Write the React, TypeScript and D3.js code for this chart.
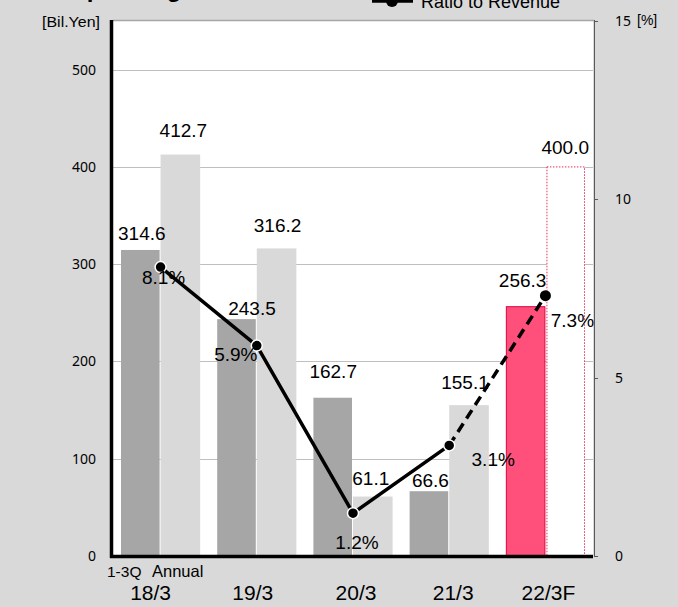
import React, { useEffect, useRef } from 'react';
import * as d3 from 'd3';

const categories = ['18/3', '19/3', '20/3', '21/3', '22/3F'];
const firstThreeQuarters = [314.6, 243.5, 162.7, 66.6, 256.3];
const annual = [412.7, 316.2, 61.1, 155.1, 400.0];
const ratio = [8.1, 5.9, 1.2, 3.1, 7.3];
const leftTicks = [0, 100, 200, 300, 400, 500];
const rightTicks = [0, 5, 10, 15];

// manual label nudges (like the hand-moved labels in the original)
const q3LabelShift = [[1, -17], [15, -11], [0, -26], [1, -11], [-3, -26]];
const annualLabelShift = [[3, -24], [1, -23], [-2, -18], [-4, -23], [0, -20]];
const ratioLabelShift = [[3, 10], [-21, 9], [4, 29], [44, 14], [27, 25]];
const categoryShift = [-10, -4, 3, 4, 3];

const W = 678;
const H = 607;
const plot = { left: 113, right: 593, top: 21, bottom: 556 };
const labelFont = '"Liberation Sans", Arial, sans-serif';

const IncomeChart = () => {
  const svgRef = useRef<SVGSVGElement>(null);

  useEffect(() => {
    const svg = d3.select(svgRef.current);
    svg.selectAll('*').remove();
    svg.attr('width', W).attr('height', H);

    const last = categories.length - 1;

    // scales
    const x0 = d3.scaleBand<string>()
      .domain(categories)
      .range([plot.left, plot.right])
      .paddingInner(0.177)
      .paddingOuter(0.083);
    const x1 = d3.scaleBand<string>()
      .domain(['q3', 'annual'])
      .range([0, x0.bandwidth()]);
    const yLeft = d3.scaleLinear().domain([0, 550]).range([plot.bottom, plot.top]);
    const yRight = d3.scaleLinear().domain([0, 15]).range([plot.bottom, plot.top]);
    const cx = (c: string) => (x0(c) as number) + x0.bandwidth() / 2;

    // background + plot area
    svg.append('rect').attr('width', W).attr('height', H).attr('fill', '#d9d9d9');
    svg.append('rect')
      .attr('x', plot.left).attr('y', plot.top)
      .attr('width', plot.right - plot.left).attr('height', plot.bottom - plot.top)
      .attr('fill', '#fff');
    svg.append('line')
      .attr('x1', plot.left).attr('x2', plot.right + 1)
      .attr('y1', plot.top - 0.5).attr('y2', plot.top - 0.5)
      .attr('stroke', '#a6a6a6').attr('stroke-width', 1.5);

    // gridlines
    svg.selectAll('.grid')
      .data(leftTicks.filter(t => t > 0))
      .enter().append('line')
      .attr('x1', plot.left).attr('x2', plot.right)
      .attr('y1', d => Math.round(yLeft(d)) + 0.5).attr('y2', d => Math.round(yLeft(d)) + 0.5)
      .attr('stroke', '#bfbfbf').attr('stroke-width', 1);

    // bars
    categories.forEach((c, i) => {
      const bx = x0(c) as number;
      const bw = x1.bandwidth();
      const fc = i === last;
      svg.append('rect')
        .attr('x', bx + (x1('q3') as number) + (fc ? 0.5 : 0))
        .attr('y', yLeft(firstThreeQuarters[i]))
        .attr('width', bw - 1)
        .attr('height', yLeft(0) - yLeft(firstThreeQuarters[i]))
        .attr('fill', fc ? '#ff4f7b' : '#a6a6a6')
        .attr('stroke', fc ? '#e0003c' : 'none')
        .attr('stroke-width', 1);
      svg.append('rect')
        .attr('x', bx + (x1('annual') as number) + (fc ? 1.5 : 0))
        .attr('y', yLeft(annual[i]))
        .attr('width', bw - (fc ? 2 : 0))
        .attr('height', yLeft(0) - yLeft(annual[i]))
        .attr('fill', fc ? '#fff' : '#d9d9d9')
        .attr('stroke', fc ? '#e8305a' : 'none')
        .attr('stroke-width', 1)
        .attr('stroke-dasharray', fc ? '1.5,1.5' : null);
    });

    // axes lines
    svg.append('line')
      .attr('x1', 111.5).attr('x2', 111.5).attr('y1', plot.top - 1).attr('y2', plot.bottom + 2)
      .attr('stroke', '#000').attr('stroke-width', 3.5);
    svg.append('line')
      .attr('x1', 110).attr('x2', plot.right).attr('y1', plot.bottom + 0.5).attr('y2', plot.bottom + 0.5)
      .attr('stroke', '#000').attr('stroke-width', 3.5);
    svg.append('line')
      .attr('x1', 594.5).attr('x2', 594.5).attr('y1', plot.top - 1).attr('y2', plot.bottom + 1)
      .attr('stroke', '#595959').attr('stroke-width', 1);
    svg.selectAll('.rtick')
      .data(rightTicks)
      .enter().append('line')
      .attr('x1', 594).attr('x2', 598)
      .attr('y1', d => Math.round(yRight(d)) + 0.5).attr('y2', d => Math.round(yRight(d)) + 0.5)
      .attr('stroke', '#595959').attr('stroke-width', 1);

    // axis tick labels
    svg.selectAll('.ltext')
      .data(leftTicks)
      .enter().append('text')
      .attr('x', 96).attr('y', d => yLeft(d)).attr('dy', '0.35em')
      .attr('text-anchor', 'end')
      .style('font-family', '"Noto Sans", sans-serif').style('font-size', '14px').style('fill', '#000')
      .text(d => d);
    svg.selectAll('.rtext')
      .data(rightTicks)
      .enter().append('text')
      .attr('x', 615).attr('y', d => yRight(d)).attr('dy', '0.35em')
      .style('font-family', '"Noto Sans", sans-serif').style('font-size', '14px').style('fill', '#000')
      .text(d => d);
    svg.append('text')
      .attr('x', 42).attr('y', 27)
      .attr('textLength', 58).attr('lengthAdjust', 'spacingAndGlyphs')
      .style('font-family', labelFont).style('font-size', '14px')
      .text('[Bil.Yen]');
    svg.append('text')
      .attr('x', 637).attr('y', 25)
      .style('font-family', labelFont).style('font-size', '14px')
      .text('[%]');

    // category labels
    svg.selectAll('.cat')
      .data(categories)
      .enter().append('text')
      .attr('x', (d, i) => cx(d) + categoryShift[i]).attr('y', 600)
      .attr('text-anchor', 'middle')
      .style('font-family', labelFont).style('font-size', '21px')
      .text(d => d);
    svg.append('text')
      .attr('x', 107).attr('y', 577)
      .style('font-family', labelFont).style('font-size', '15.5px')
      .text('1-3Q');
    svg.append('text')
      .attr('x', 152).attr('y', 577)
      .style('font-family', labelFont).style('font-size', '16.5px')
      .text('Annual');

    // ratio line
    const pts = categories.map((c, i) => [cx(c), yRight(ratio[i])] as [number, number]);
    const line = d3.line();
    svg.append('path')
      .attr('d', line(pts.slice(0, last)))
      .attr('fill', 'none').attr('stroke', '#000').attr('stroke-width', 3.5);
    svg.append('path')
      .attr('d', line(pts.slice(last - 1)))
      .attr('fill', 'none').attr('stroke', '#000').attr('stroke-width', 3.5)
      .attr('stroke-dasharray', '10,6');
    svg.selectAll('.mark')
      .data(pts)
      .enter().append('circle')
      .attr('cx', d => d[0]).attr('cy', d => d[1]).attr('r', 5.5)
      .attr('fill', '#000')
      .attr('stroke', (d, i) => (i === last ? '#000' : '#fff'))
      .attr('stroke-width', (d, i) => (i === last ? 0 : 1.5));

    // value labels
    const valueText = (x: number, y: number, t: string) =>
      svg.append('text')
        .attr('x', x).attr('y', y).attr('dy', '0.35em')
        .attr('text-anchor', 'middle')
        .style('font-family', labelFont).style('font-size', '19px').style('fill', '#000')
        .text(t);
    categories.forEach((c, i) => {
      const bx = x0(c) as number;
      const bw = x1.bandwidth();
      valueText(bx + bw / 2 + q3LabelShift[i][0], yLeft(firstThreeQuarters[i]) + q3LabelShift[i][1],
        firstThreeQuarters[i].toFixed(1));
      valueText(bx + bw * 1.5 + annualLabelShift[i][0], yLeft(annual[i]) + annualLabelShift[i][1],
        annual[i].toFixed(1));
      valueText(pts[i][0] + ratioLabelShift[i][0], pts[i][1] + ratioLabelShift[i][1],
        ratio[i].toFixed(1) + '%');
    });

    // cropped title + legend at the top edge
    svg.append('text')
      .attr('x', 68).attr('y', -3)
      .style('font-family', labelFont).style('font-size', '24px').style('font-weight', 'bold')
      .text('Operating Income');
    svg.append('line')
      .attr('x1', 372).attr('x2', 413).attr('y1', 1).attr('y2', 1)
      .attr('stroke', '#000').attr('stroke-width', 3.5);
    svg.append('circle')
      .attr('cx', 392).attr('cy', 1).attr('r', 6).attr('fill', '#000');
    svg.append('text')
      .attr('x', 421).attr('y', 8)
      .style('font-family', labelFont).style('font-size', '18px')
      .text('Ratio to Revenue');
  }, []);

  return <svg ref={svgRef} style={{ position: 'absolute', left: 0, top: 0, display: 'block' }}></svg>;
};

export default function App() {
  return <IncomeChart />;
}
